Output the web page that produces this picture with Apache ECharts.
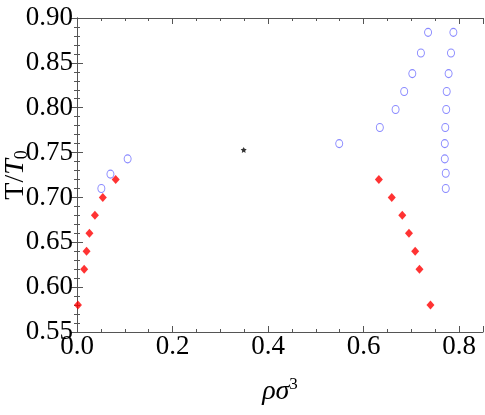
<!DOCTYPE html>
<html><head><meta charset="utf-8">
<script src="https://cdn.jsdelivr.net/npm/echarts@6/dist/echarts.min.js"></script>
<style>html,body{margin:0;padding:0;background:#fff}#c{width:485px;height:415px}</style>
</head><body><div id="c"></div>
<script>
// Data
const redLeftX = [0.002, 0.015, 0.020, 0.026, 0.0375, 0.054, 0.081];
const redLeftY = [0.58, 0.62, 0.64, 0.66, 0.68, 0.70, 0.72];
const blueLeftX = [0.051, 0.070, 0.106];
const blueLeftY = [0.71, 0.726, 0.743];
const starX = [0.349];
const starY = [0.753];
const blueInnerX = [0.549, 0.634, 0.667, 0.685, 0.702, 0.720, 0.735];
const blueInnerY = [0.760, 0.778, 0.798, 0.818, 0.838, 0.861, 0.884];
const blueOuterX = [0.788, 0.783, 0.778, 0.774, 0.773, 0.771, 0.770, 0.770, 0.772, 0.772];
const blueOuterY = [0.884, 0.861, 0.838, 0.818, 0.798, 0.778, 0.760, 0.743, 0.727, 0.710];
const redRightX = [0.632, 0.659, 0.681, 0.695, 0.708, 0.717, 0.740];
const redRightY = [0.72, 0.70, 0.68, 0.66, 0.64, 0.62, 0.58];
const xTickLabels = ['0.0', '0.2', '0.4', '0.6', '0.8'];

const zip = (xs, ys) => xs.map((x, i) => [x, ys[i]]);
const FONT = 'Liberation Serif';
const AX = '#555';

function xAx(pos, interval, len, labels, line) {
  return {
    type: 'value', position: pos, min: 0, max: 0.85, interval: interval,
    axisLine: {show: line, lineStyle: {color: AX, width: 1}},
    axisTick: {show: true, inside: true, length: len, lineStyle: {color: AX}},
    splitLine: {show: false},
    axisLabel: labels ? {
      show: true, color: '#000', fontFamily: FONT, fontSize: 27, margin: 1,
      formatter: v => { const s = v.toFixed(1); return (xTickLabels.includes(s) && Math.abs(v*5 - Math.round(v*5)) < 1e-6) ? s : ''; }
    } : {show: false},
    name: labels ? '{i|ρσ}{s|3}' : '',
    nameLocation: 'middle', nameGap: 44, nameMoveOverlap: false,
    nameTextStyle: {
      rich: {
        i: {fontFamily: FONT, fontStyle: 'italic', fontSize: 28, color: '#000'},
        s: {fontFamily: FONT, fontSize: 17, color: '#000', padding: [0, 0, 14, 0]}
      }
    }
  };
}
function yAx(pos, labels) {
  return {
    type: 'value', position: pos, min: 0.55, max: 0.90, interval: 0.05,
    axisLine: {show: true, lineStyle: {color: AX, width: 1}},
    axisTick: {show: true, inside: true, length: 6, lineStyle: {color: AX}},
    minorTick: {show: true, splitNumber: 5, length: 3, lineStyle: {color: AX}},
    splitLine: {show: false},
    axisLabel: labels ? {show: true, color: '#000', fontFamily: FONT, fontSize: 27, margin: 4,
      formatter: v => v.toFixed(2)} : {show: false},
    name: labels ? '{r|T/}{i|T}{s|0}' : '',
    nameLocation: 'middle', nameGap: 46, nameMoveOverlap: false,
    nameTextStyle: {
      rich: {
        r: {fontFamily: FONT, fontSize: 28, color: '#000'},
        i: {fontFamily: FONT, fontStyle: 'italic', fontSize: 28, color: '#000'},
        s: {fontFamily: FONT, fontSize: 18, color: '#000', padding: [12, 0, 0, 0]}
      }
    }
  };
}

const star = 'path://M0,-10 L2.9,-4 L9.5,-3.1 L4.7,1.5 L5.9,8.1 L0,5 L-5.9,8.1 L-4.7,1.5 L-9.5,-3.1 L-2.9,-4 Z';
const blueStyle = {color: 'rgba(0,0,0,0)', borderColor: '#6b6bff', borderWidth: 1};

const chart = echarts.init(document.getElementById('c'), null, {renderer: 'canvas'});
chart.setOption({
  animation: false,
  backgroundColor: '#fff',
  grid: {left: 77, right: 2, top: 18, bottom: 83, containLabel: false, outerBoundsMode: 'none'},
  xAxis: [
    xAx('bottom', 0.2, 6, true, true),
    xAx('bottom', 0.05, 3, false, false),
    xAx('top', 0.2, 6, false, true),
    xAx('top', 0.05, 3, false, false)
  ],
  yAxis: [yAx('left', true), yAx('right', false)],
  series: [
    {type: 'scatter', data: zip(redLeftX, redLeftY), symbol: 'diamond', symbolSize: [8, 9], itemStyle: {color: '#ff0000'}},
    {type: 'scatter', data: zip(redRightX, redRightY), symbol: 'diamond', symbolSize: [8, 9], itemStyle: {color: '#ff0000'}},
    {type: 'scatter', data: zip(blueLeftX, blueLeftY), symbol: 'circle', symbolSize: [7, 8], itemStyle: blueStyle},
    {type: 'scatter', data: zip(blueInnerX, blueInnerY), symbol: 'circle', symbolSize: [7, 8], itemStyle: blueStyle},
    {type: 'scatter', data: zip(blueOuterX, blueOuterY), symbol: 'circle', symbolSize: [7, 8], itemStyle: blueStyle},
    {type: 'scatter', data: zip(starX, starY), symbol: star, symbolSize: 6, itemStyle: {color: '#000'}}
  ]
});
</script></body></html>
